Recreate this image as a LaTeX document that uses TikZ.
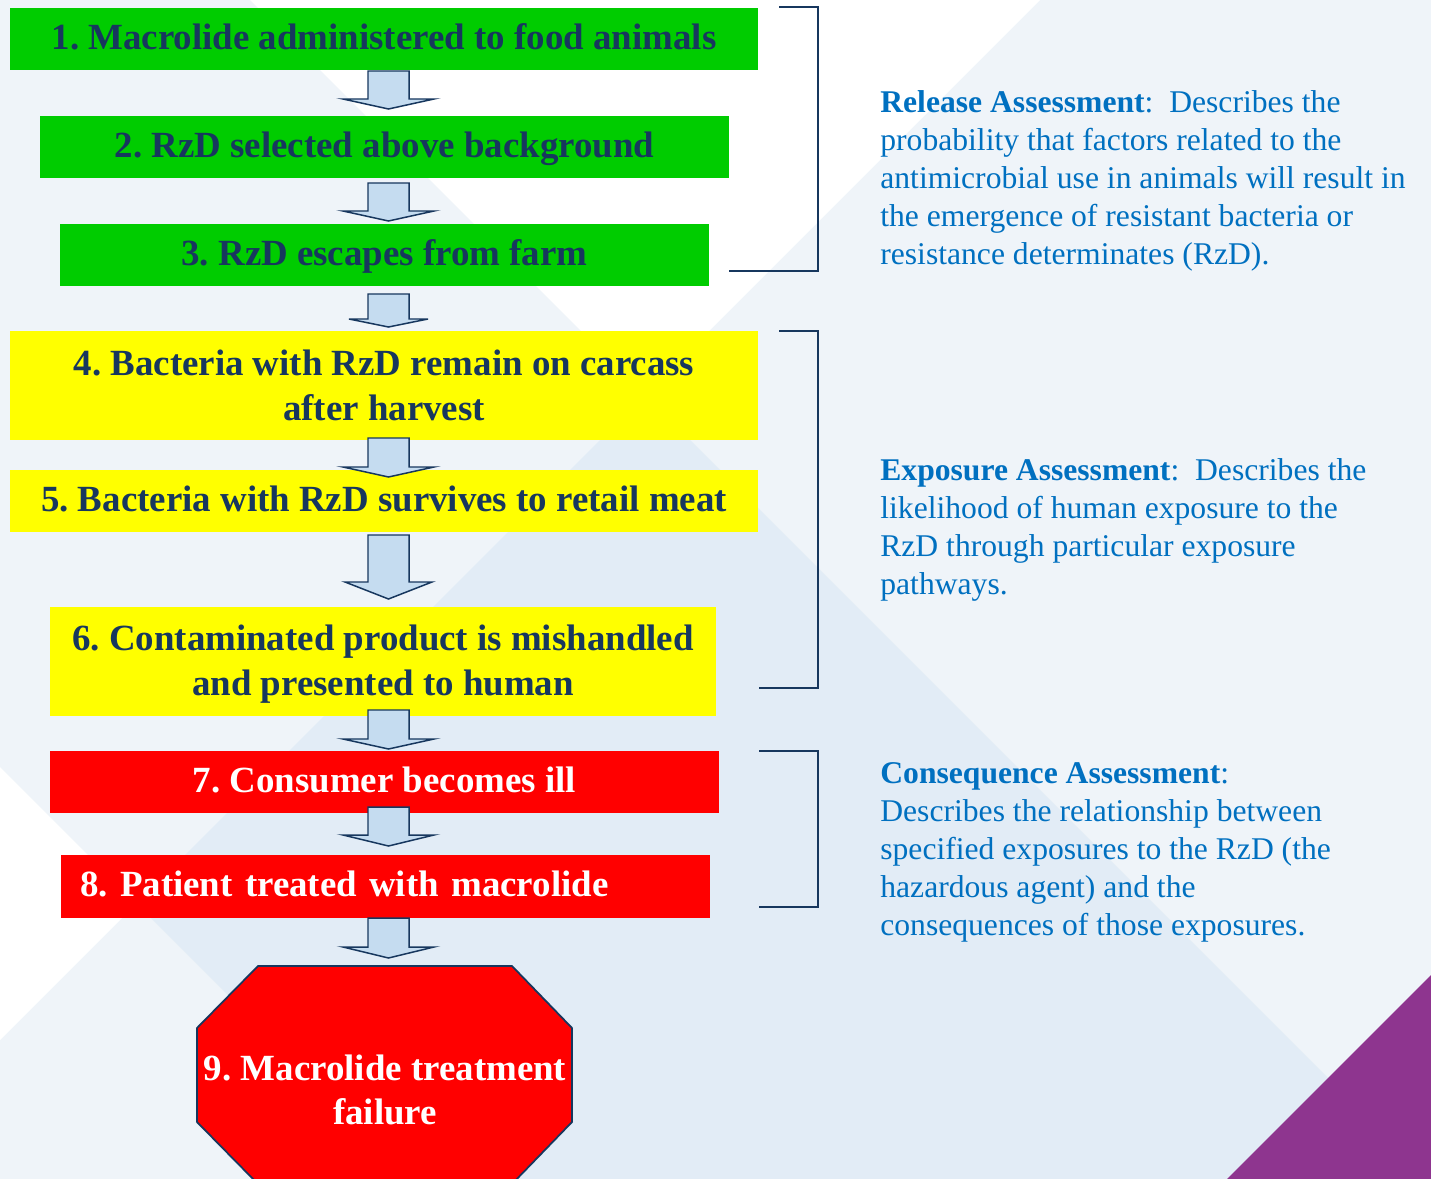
\documentclass[tikz,border=0pt]{standalone}
\usepackage{fontspec}
\setmainfont{Liberation Serif}
\frenchspacing

\definecolor{boxtext}{RGB}{23,55,94}
\definecolor{boxgreen}{RGB}{0,204,0}
\definecolor{boxyellow}{RGB}{255,255,0}
\definecolor{boxred}{RGB}{255,0,0}
\definecolor{arrowfill}{RGB}{197,220,240}
\definecolor{desctext}{RGB}{0,112,192}
\definecolor{bglight}{RGB}{239,244,249}
\definecolor{bgdark}{RGB}{226,236,246}
\definecolor{cornerpurple}{RGB}{142,53,143}

\tikzset{
  stepbox/.style={inner sep=0pt, align=center, text=boxtext,
    font=\fontsize{21}{25.5}\selectfont\bfseries},
  oneline/.style={text height=15pt, text depth=3.6pt},
  release/.style={stepbox, fill=boxgreen},
  exposure/.style={stepbox, fill=boxyellow},
  consequence/.style={stepbox, fill=boxred, text=white},
  bracket/.style={draw=boxtext, line width=1.2pt},
  desc/.style={anchor=north west, inner sep=0pt, align=left, text=desctext,
    font=\fontsize{18}{21.7}\selectfont},
  pics/downarrow/.style n args={3}{code={
    \filldraw[fill=arrowfill, draw=boxtext, line width=0.85pt]
      (-20.5,0) -- (-20.5,#1-#2) -- (-#3,#1-#2) -- (0,#1)
      -- (#3,#1-#2) -- (20.5,#1-#2) -- (20.5,0) -- cycle;
  }},
}

\begin{document}
\begin{tikzpicture}[x=0.02cm, y=-0.02cm]
    \useasboundingbox (0,0) rectangle (1431,1179);
    % background:
    \fill[bglight] (0,0) rectangle (1431,1179);
    \fill[white] (250,0) -- (1040,0) -- (645,395) -- cycle;
    \fill[white] (0,767) -- (136.5,903.5) -- (0,1040) -- cycle;
    \fill[bgdark] (645,395) -- (1429,1179) -- (412,1179) -- (136.5,903.5) -- cycle;
    \fill[cornerpurple] (1431,975) -- (1431,1179) -- (1227,1179) -- cycle;
    % brackets:
    \draw[bracket] (779,7) -- (818,7) -- (818,271) -- (729,271);
    \draw[bracket] (779,331) -- (818,331) -- (818,688) -- (759,688);
    \draw[bracket] (759,751) -- (818,751) -- (818,907) -- (759,907);
    % steps:
    \node[release, oneline, minimum width=14.96cm, minimum height=1.24cm] (s1) at (384,39)
        {1. Macrolide administered to food animals};
    \node[release, oneline, minimum width=13.78cm, minimum height=1.24cm] (s2) at (384.5,147)
        {2. RzD selected above background};
    \node[release, oneline, minimum width=12.98cm, minimum height=1.24cm] (s3) at (384.5,255)
        {3. RzD escapes from farm};
    \node[exposure, minimum width=14.96cm, minimum height=2.18cm] (s4) at (384,385.5)
        {4. Bacteria with RzD remain on carcass\\after harvest};
    \node[exposure, oneline, minimum width=14.96cm, minimum height=1.24cm] (s5) at (384,501)
        {5. Bacteria with RzD survives to retail meat};
    \node[exposure, minimum width=13.32cm, minimum height=2.18cm] (s6) at (383,661.5)
        {\rule{0pt}{18pt}6. Contaminated product is mishandled\\and presented to human};
    \node[consequence, oneline, minimum width=13.38cm, minimum height=1.24cm] (s7) at (384.5,782)
        {7. Consumer becomes ill};
    \node[consequence, oneline, text width=12.22cm, align=left, minimum height=1.26cm,
        inner xsep=0.38cm] (s8) at (385.5,886.5)
        {8. Patient treated with macrolide};
    % arrows:
    \pic at (388.5,71) {downarrow={38}{10}{45.5}};
    \pic at (388.5,183) {downarrow={38}{10}{45.5}};
    \pic at (388.5,294) {downarrow={33}{8}{39.5}};
    \pic at (388.5,438) {downarrow={39}{10}{45.5}};
    \pic at (388.5,535) {downarrow={64}{17}{43.5}};
    \pic at (388.5,710) {downarrow={39}{10}{45.5}};
    \pic at (388.5,807) {downarrow={39}{11}{45.5}};
    \pic at (388.5,918) {downarrow={40}{11}{45.5}};
    % stop sign:
    \filldraw[fill=boxred, draw=boxtext, line width=1pt]
        (258,966) -- (512,966) -- (572,1028) -- (572,1122) -- (512,1184)
        -- (258,1184) -- (197,1122) -- (197,1028) -- cycle;
    \node[consequence] (s9) at (385,1090) {9. Macrolide treatment\\failure};
    % descriptions:
    \node[desc] (rel) at (880,90)
        {\textbf{Release Assessment}:~ Describes the\\
         probability that factors related to the\\
         antimicrobial use in animals will result in\\
         the emergence of resistant bacteria or\\
         resistance determinates (RzD).};
    \node[desc] (expo) at (880,458)
        {\textbf{Exposure Assessment}:~ Describes the\\
         likelihood of human exposure to the\\
         RzD through particular exposure\\
         pathways.};
    \node[desc] (cons) at (880,762)
        {\textbf{Consequence Assessment}:\\
         Describes the relationship between\\
         specified exposures to the RzD (the\\
         hazardous agent) and the\\
         consequences of those exposures.};
\end{tikzpicture}
\end{document}
